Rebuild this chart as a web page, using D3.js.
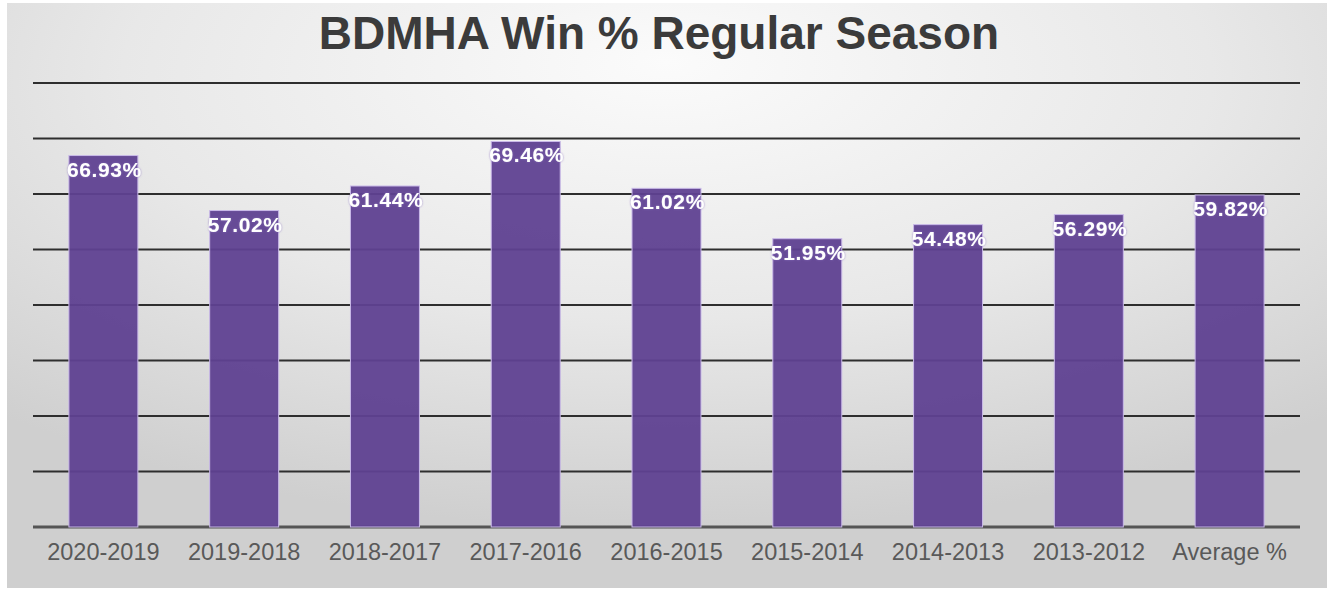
<!DOCTYPE html>
<html>
<head>
<meta charset="utf-8">
<script src="https://cdn.jsdelivr.net/npm/d3@7"></script>
<style>
  body { margin: 0; background: #ffffff; }
  svg { display: block; }
</style>
</head>
<body>
<div id="chart"></div>
<script>
// seasons, left to right
var seasons = ["2020-2019", "2019-2018", "2018-2017", "2017-2016", "2016-2015",
               "2015-2014", "2014-2013", "2013-2012", "Average %"];
// win % per season
var winPct = [66.93, 57.02, 61.44, 69.46, 61.02, 51.95, 54.48, 56.29, 59.82];
// value axis gridlines (no tick labels shown)
var gridTicks = [0, 10, 20, 30, 40, 50, 60, 70, 80];

var W = 1330, H = 590;
var margin = {top: 83, right: 30, bottom: 63, left: 33};

var svg = d3.select("#chart").append("svg")
    .attr("width", W).attr("height", H);

// background gradient
var defs = svg.append("defs");
var grad = defs.append("radialGradient").attr("id", "bg")
    .attr("cx", "50%").attr("cy", "15%").attr("r", "75%")
    .attr("fx", "50%").attr("fy", "10%");
grad.append("stop").attr("offset", "0%").attr("stop-color", "#fbfbfb");
grad.append("stop").attr("offset", "55%").attr("stop-color", "#e8e8e8");
grad.append("stop").attr("offset", "100%").attr("stop-color", "#cfcfcf");

var glow = defs.append("filter").attr("id", "glow")
    .attr("x", "-10%").attr("y", "-30%").attr("width", "120%").attr("height", "160%");
glow.append("feGaussianBlur").attr("in", "SourceAlpha").attr("stdDeviation", 1.2).attr("result", "b");
glow.append("feFlood").attr("flood-color", "#8a6fc0").attr("flood-opacity", 0.8);
glow.append("feComposite").attr("in2", "b").attr("operator", "in").attr("result", "s");
var fm = glow.append("feMerge");
fm.append("feMergeNode").attr("in", "s");
fm.append("feMergeNode").attr("in", "SourceGraphic");

svg.append("rect")
    .attr("x", 7).attr("y", 3).attr("width", 1320).attr("height", 585)
    .attr("fill", "url(#bg)");

var x = d3.scaleBand()
    .domain(seasons)
    .range([margin.left, W - margin.right])
    .paddingInner(0.51).paddingOuter(0.255);

var y = d3.scaleLinear()
    .domain([0, 80])
    .range([H - margin.bottom, margin.top]);

// gridlines
svg.append("g").selectAll("line").data(gridTicks).enter().append("line")
    .attr("x1", margin.left).attr("x2", W - margin.right)
    .attr("y1", function(d) { return y(d); })
    .attr("y2", function(d) { return y(d); })
    .attr("stroke", function(d) { return d === 0 ? "#555555" : "#2e2e2e"; })
    .attr("stroke-width", function(d) { return d === 0 ? 3 : 2; });

// bars
svg.append("g").selectAll("rect").data(winPct).enter().append("rect")
    .attr("x", function(d, i) { return x(seasons[i]); })
    .attr("y", function(d) { return y(d); })
    .attr("width", x.bandwidth())
    .attr("height", function(d) { return y(0) - y(d); })
    .attr("fill", "#5f4191")
    .attr("fill-opacity", 0.95)
    .attr("stroke", "#c9b9e8")
    .attr("stroke-width", 1);

// value labels
svg.append("g").selectAll("text").data(winPct).enter().append("text")
    .attr("x", function(d, i) { return x(seasons[i]) + x.bandwidth() / 2 + 1; })
    .attr("y", function(d) { return y(d) + 21; })
    .attr("text-anchor", "middle")
    .attr("font-family", "Liberation Sans, Arial, sans-serif")
    .attr("font-weight", "bold")
    .attr("font-size", "21px")
    .attr("letter-spacing", "0.6px")
    .attr("fill", "#ffffff")
    .attr("filter", "url(#glow)")
    .text(function(d) { return d.toFixed(2) + "%"; });

// category axis
var xAxis = svg.append("g")
    .attr("transform", "translate(0," + (H - margin.bottom) + ")")
    .call(d3.axisBottom(x).tickSize(0).tickPadding(16));
xAxis.select(".domain").remove();
xAxis.selectAll("text")
    .attr("font-family", "Liberation Sans, Arial, sans-serif")
    .attr("font-size", "23.5px")
    .attr("fill", "#595959");

// title
svg.append("text")
    .attr("x", 659).attr("y", 49)
    .attr("text-anchor", "middle")
    .attr("font-family", "Liberation Sans, Arial, sans-serif")
    .attr("font-weight", "bold")
    .attr("font-size", "46px")
    .attr("fill", "#3b3b3b")
    .text("BDMHA Win % Regular Season");
</script>
</body>
</html>
